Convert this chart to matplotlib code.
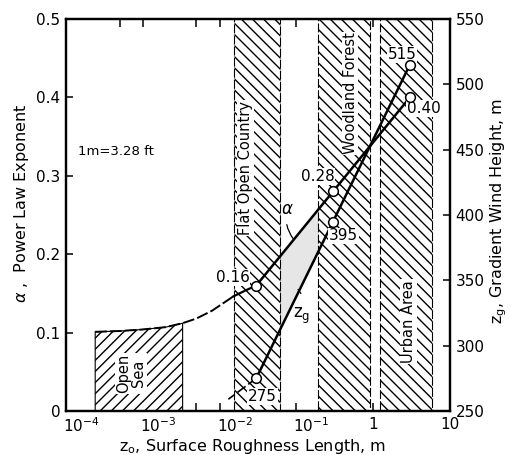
import numpy as np
import matplotlib
matplotlib.use("Agg")
import matplotlib.pyplot as plt
import matplotlib.transforms as mtransforms
from matplotlib.ticker import FixedLocator, FixedFormatter, NullFormatter

plt.rcParams["font.family"] = ["DejaVu Sans"]
plt.rcParams["hatch.linewidth"] = 1.0

# terrain categories: roughness length range (m)
terrain = ["Open\nSea", "Flat Open Country", "Woodland Forest", "Urban Area"]
z_lo = [2.4e-4, 0.0155, 0.19, 1.23]
z_hi = [3.3e-3, 0.061, 0.90, 5.8]

# power-law exponent and gradient height at the typical roughness lengths
z_pts = [0.03, 0.3, 3.0]
alpha_pts = [0.16, 0.28, 0.40]
zg_pts = [275, 395, 515]

# smooth extension of the alpha curve toward the open sea
z_ext = [2.4e-4, 5e-4, 1e-3, 2e-3, 3.3e-3, 5e-3, 8e-3, 1.5e-2, 2.2e-2, 3e-2]
a_ext = [0.101, 0.102, 0.104, 0.107, 0.112, 0.118, 0.128, 0.146, 0.154, 0.16]

# short extension of the z_g line below 275 m
z_zext = [0.03, 0.013]
zg_zext = [275, 259]

xtick_vals = [1e-4, 1e-3, 1e-2, 1e-1, 1, 10]
xtick_labels = [r"$\mathregular{10^{-4}}$", r"$\mathregular{10^{-3}}$",
                r"$\mathregular{10^{-2}}$", r"$\mathregular{10^{-1}}$", "1", "10"]

A_LIM = (0.0, 0.5)
ZG_LIM = (250, 550)


def zg_to_alpha(zg):
    zg = np.asarray(zg, float)
    return A_LIM[0] + (zg - ZG_LIM[0]) / (ZG_LIM[1] - ZG_LIM[0]) * (A_LIM[1] - A_LIM[0])


fig = plt.figure(figsize=(5.11, 4.55), dpi=100)
ax = fig.add_axes([66 / 511, 1 - 411 / 455, 384 / 511, 392 / 455])
ax2 = ax.twinx()

ax.set_xscale("log")
ax.set_xlim(1e-4, 10)
ax.set_ylim(*A_LIM)
ax2.set_ylim(*ZG_LIM)

# grey band between the two lines, up to where they cross
lz = np.log10(z_pts)
zg_a = zg_to_alpha(zg_pts)
d0 = alpha_pts[1] - zg_a[1]
d1 = alpha_pts[2] - zg_a[2]
lx = lz[1] + (lz[2] - lz[1]) * d0 / (d0 - d1)
ax_cross = alpha_pts[1] + (alpha_pts[2] - alpha_pts[1]) * (lx - lz[1]) / (lz[2] - lz[1])
fz = [z_pts[0], z_pts[1], 10 ** lx]
ax.fill_between(fz, [alpha_pts[0], alpha_pts[1], ax_cross],
                [zg_a[0], zg_a[1], ax_cross], color="#e6e6e6", lw=0, zorder=1)

# hatched terrain bands
for i, (lab, lo, hi) in enumerate(zip(terrain, z_lo, z_hi)):
    if i == 0:
        n = 5
        ax.fill_between(z_ext[:n], 0, a_ext[:n], facecolor="white", edgecolor="black",
                        hatch="///", lw=0.8, zorder=2)
    else:
        ax.axvspan(lo, hi, facecolor="white", edgecolor="black", hatch="\\\\\\",
                   lw=0.8, ls=(0, (8, 2)), zorder=2)

# dashed / solid alpha extension
ax.plot(z_ext[:8], a_ext[:8], color="black", lw=1.4, dashes=(6, 1.6), zorder=4)
ax.plot(z_ext[7:], a_ext[7:], color="black", lw=1.6, zorder=4)

# alpha line
ax.plot(z_pts, alpha_pts, color="black", lw=1.8, zorder=4)
ax.plot(z_pts, alpha_pts, "o", ms=7, mfc="white", mec="black", mew=1.1, zorder=6)

# z_g line
ax2.plot(z_zext, zg_zext, color="black", lw=1.2, dashes=(6, 2), zorder=4)
ax2.plot(z_pts, zg_pts, color="black", lw=1.8, zorder=4)
ax2.plot(z_pts, zg_pts, "o", ms=7, mfc="white", mec="black", mew=1.1, zorder=6)

box = dict(fc="white", ec="none", pad=0.6)
fs = 11
# value labels
ax.text(0.0148, 0.170, "0.16", fontsize=fs, ha="center", va="center", bbox=box, zorder=5)
ax.text(0.19, 0.299, "0.28", fontsize=fs, ha="center", va="center", bbox=box, zorder=5)
ax.text(4.6, 0.386, "0.40", fontsize=fs, ha="center", va="center", bbox=box, zorder=5)
ax2.text(0.036, 261, "275", fontsize=fs, ha="center", va="center", bbox=box, zorder=5)
ax2.text(0.41, 384, "395", fontsize=fs, ha="center", va="center", bbox=box, zorder=5)
ax2.text(2.37, 523, "515", fontsize=fs, ha="center", va="center", bbox=box, zorder=5)

# terrain labels
ax.text(0.0215, 0.31, terrain[1], rotation=90, fontsize=10.5, ha="center", va="center",
        bbox=box, zorder=5)
ax.text(0.50, 0.405, terrain[2], rotation=90, fontsize=10.5, ha="center", va="center",
        bbox=box, zorder=5)
ax.text(2.85, 0.114, terrain[3], rotation=90, fontsize=10.5, ha="center", va="center",
        bbox=box, zorder=5)
ax.text(7e-4, 0.048, terrain[0], rotation=90, fontsize=10.5, ha="center", va="center",
        linespacing=1.0, bbox=box, zorder=5)

ax.text(1.45e-4, 0.331, "1m=3.28 ft", fontsize=9.5, ha="left", va="center")

# curve tags with leaders
ax.annotate(r"$\alpha$", xy=(0.092, 0.219), xytext=(0.077, 0.258), fontsize=12,
            ha="center", va="center",
            arrowprops=dict(arrowstyle="-", lw=0.9, color="black",
                            shrinkA=3, shrinkB=0, connectionstyle="arc3,rad=0.25"),
            zorder=5)
ax2.annotate(r"$\mathregular{z_g}$", xy=(0.105, 343), xytext=(0.118, 323), fontsize=12,
             ha="center", va="center",
             arrowprops=dict(arrowstyle="-", lw=0.9, color="black",
                             shrinkA=7, shrinkB=0, connectionstyle="arc3,rad=0.3"),
             zorder=5)

# ticks
ax.xaxis.set_major_locator(FixedLocator(xtick_vals))
ax.xaxis.set_major_formatter(FixedFormatter(xtick_labels))
ax.xaxis.set_minor_locator(FixedLocator([5e-4, 5e-3, 5e-2, 0.5, 5]))
ax.xaxis.set_minor_formatter(NullFormatter())
ax.set_yticks([0, 0.1, 0.2, 0.3, 0.4, 0.5])
ax.set_yticklabels(["0", "0.1", "0.2", "0.3", "0.4", "0.5"])
ax2.set_yticks([250, 300, 350, 400, 450, 500, 550])

ax.tick_params(axis="x", which="both", direction="in", top=True, length=6, width=1.1,
               labelsize=fs, pad=4)
ax.tick_params(axis="y", direction="in", right=False, length=5, width=1.1,
               labelsize=fs, pad=4)
ax2.tick_params(axis="y", direction="in", length=5, width=1.1, labelsize=fs, pad=4)

# power-of-ten labels start at their tick, as in the original lettering
shift = mtransforms.ScaledTranslation(-3 / 100, 0, fig.dpi_scale_trans)
for tick in ax.xaxis.get_major_ticks()[:4]:
    tick.label1.set_horizontalalignment("left")
    tick.label1.set_transform(tick.label1.get_transform() + shift)

for a in (ax, ax2):
    for s in a.spines.values():
        s.set_linewidth(1.6)

ax.set_ylabel(r"$\alpha$ ,  Power Law Exponent", fontsize=11.5)
ax.yaxis.set_label_coords(-0.09, 0.53)
ax2.set_ylabel(r"$\mathregular{z_g}$, Gradient Wind Height, m", fontsize=11.5)
ax2.yaxis.set_label_coords(1.1, 0.51)
ax.set_xlabel(r"$\mathregular{z_o}$, Surface Roughness Length, m", fontsize=11.5)
ax.xaxis.set_label_coords(0.487, -0.066)

fig.savefig("out.png", dpi=100)
